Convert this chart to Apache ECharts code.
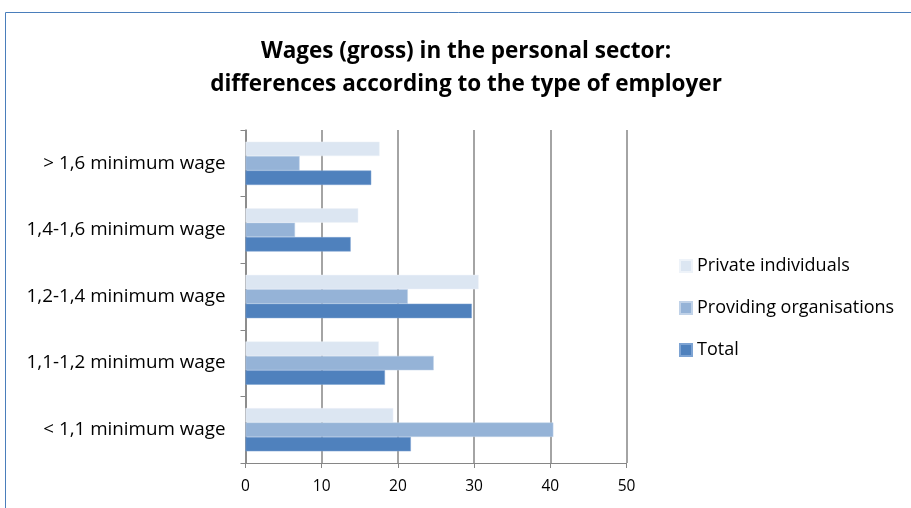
<!DOCTYPE html>
<html>
<head>
<meta charset="utf-8">
<script src="https://cdn.jsdelivr.net/npm/echarts@6/dist/echarts.min.js"></script>
<style>
html,body{margin:0;padding:0;background:#fff;}
#c{width:911px;height:508px;}
</style>
</head>
<body>
<div id="c"></div>
<script>
const categories = ['< 1,1 minimum wage', '1,1-1,2 minimum wage', '1,2-1,4 minimum wage', '1,4-1,6 minimum wage', '> 1,6 minimum wage'];
const privateIndividuals = [19.4, 17.5, 30.6, 14.8, 17.6];
const providingOrganisations = [40.4, 24.7, 21.3, 6.5, 7.1];
const total = [21.7, 18.3, 29.7, 13.8, 16.5];
const xTicks = [0, 10, 20, 30, 40, 50];
const legendNames = ['Private individuals', 'Providing organisations', 'Total'];

const FONT = 'Open Sans';
const chart = echarts.init(document.getElementById('c'));
chart.setOption({
  animation: false,
  backgroundColor: '#fff',
  title: {
    text: 'Wages (gross) in the personal sector:\ndifferences according to the type of employer',
    left: 466, top: 35, textAlign: 'center', padding: 0,
    textStyle: {fontFamily: FONT, fontWeight: 'bold', fontSize: 22.5, lineHeight: 33, color: '#000'}
  },
  graphic: [{
    type: 'rect', silent: true,
    shape: {x: 5.5, y: 12.5, width: 1000, height: 1000},
    style: {fill: 'none', stroke: '#4a7ebb', lineWidth: 1}
  }],
  legend: {
    data: legendNames,
    orient: 'vertical', left: 679, top: 257, padding: 0,
    icon: 'rect', itemWidth: 12, itemHeight: 12, itemGap: 24,
    textStyle: {fontFamily: FONT, fontSize: 18, color: '#000'}
  },
  grid: {left: 245.5, top: 130, width: 381, height: 333, containLabel: false},
  xAxis: {
    type: 'value', min: xTicks[0], max: xTicks[xTicks.length-1], interval: 10,
    axisLine: {show: true, lineStyle: {color: '#868686', width: 1}},
    axisTick: {show: true, length: 5, lineStyle: {color: '#868686'}},
    splitLine: {show: true, lineStyle: {color: '#868686', width: 1.5}},
    axisLabel: {fontFamily: FONT, fontSize: 15.5, color: '#000', margin: 16}
  },
  yAxis: {
    type: 'category', data: categories,
    axisLine: {show: true, lineStyle: {color: '#868686', width: 1.5}},
    axisTick: {show: true, length: 5, lineStyle: {color: '#868686'}},
    axisLabel: {fontFamily: FONT, fontSize: 18.8, color: '#000', margin: 20}
  },
  series: [
    {name: 'Private individuals', type: 'bar', data: privateIndividuals, barGap: '0%', barCategoryGap: '35%',
     itemStyle: {color: '#dce6f2', borderColor: '#eef3f9', borderWidth: 0.5}},
    {name: 'Providing organisations', type: 'bar', data: providingOrganisations, barGap: '0%', barCategoryGap: '35%',
     itemStyle: {color: '#95b3d7', borderColor: '#c0d2e8', borderWidth: 0.5}},
    {name: 'Total', type: 'bar', data: total, barGap: '0%', barCategoryGap: '35%',
     itemStyle: {color: '#4f81bd', borderColor: '#7da3d3', borderWidth: 0.5}}
  ]
});
</script>
</body>
</html>
